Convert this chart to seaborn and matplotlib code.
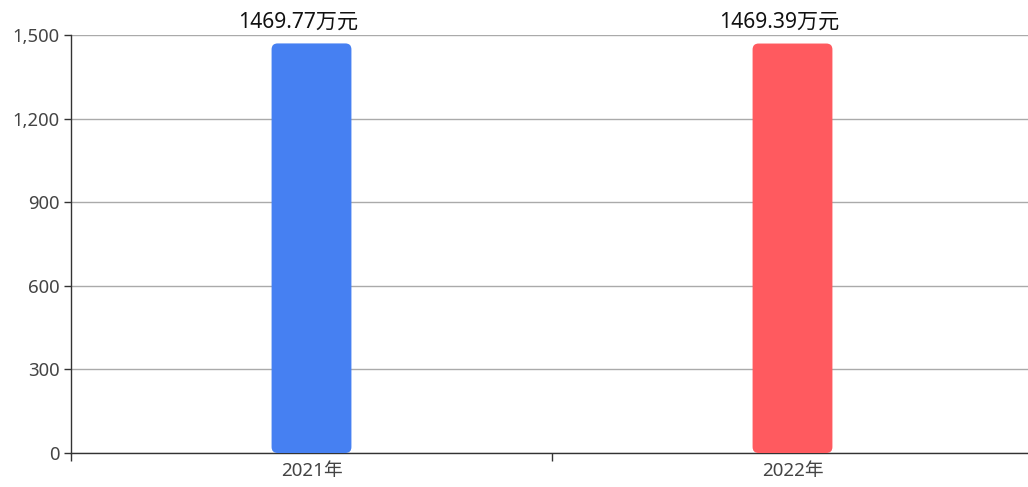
import matplotlib
matplotlib.use("Agg")
import matplotlib.pyplot as plt
import seaborn as sns
import pandas as pd
from matplotlib.patches import FancyBboxPatch
from matplotlib.ticker import FuncFormatter, FixedLocator

categories = ["2021年", "2022年"]
values = [1469.77, 1469.39]
labels = ["1469.77万元", "1469.39万元"]
colors = ["#4680F2", "#FF5A5F"]
y_ticks = [0, 300, 600, 900, 1200, 1500]

sns.set_theme(style="white")
plt.rcParams['font.family'] = ['Noto Sans', 'Noto Sans CJK SC', 'DejaVu Sans']

fig = plt.figure(figsize=(10.28, 4.87), dpi=100)
ax = fig.add_axes([71/1028, 1 - 453/487, 962/1028, 418/487])

df = pd.DataFrame({"cat": categories, "val": values})
sns.barplot(data=df, x="cat", y="val", hue="cat", palette=colors, legend=False,
            width=0.166, ax=ax, saturation=1)

ax.set_xlim(-0.5, 1.5)
ax.set_ylim(0, 1500)
ax.set_yticks(y_ticks)
ax.yaxis.set_major_formatter(FuncFormatter(lambda v, p: f"{int(v):,}"))
ax.set_xlabel("")
ax.set_ylabel("")

# rounded bars
fig.canvas.draw()
inv = ax.transData.inverted()
p0 = inv.transform((0, 0)); p1 = inv.transform((1, 1))
dx_px = p1[0] - p0[0]; dy_px = p1[1] - p0[1]
aspect = dy_px / dx_px
r_px = 6
for patch in list(ax.patches):
    x, y = patch.get_x(), patch.get_y()
    w, h = patch.get_width(), patch.get_height()
    fc = patch.get_facecolor()
    patch.remove()
    fb = FancyBboxPatch((x, y), w, h,
                        boxstyle=f"round,pad=0,rounding_size={r_px*dx_px}",
                        mutation_aspect=aspect, facecolor=fc, edgecolor="none", zorder=3)
    ax.add_patch(fb)

for i, (v, lab) in enumerate(zip(values, labels)):
    ax.annotate(lab, xy=(i, v), xytext=(-9.5, 8), textcoords="offset points",
                ha="center", va="bottom", fontsize=15.2, color="#111111")

ax.yaxis.grid(True, color="#AAAAAA", linewidth=1)
ax.set_axisbelow(True)
for s in ["top", "right"]:
    ax.spines[s].set_visible(False)
for s in ["left", "bottom"]:
    ax.spines[s].set_color("#333333")
    ax.spines[s].set_linewidth(1)

ax.tick_params(axis="y", which="major", length=5, width=1, color="#333333",
               labelcolor="#444444", labelsize=13.3, left=True, pad=3)
ax.tick_params(axis="x", which="major", length=0, labelcolor="#444444", labelsize=13.5, pad=6.5)
ax.xaxis.set_minor_locator(FixedLocator([-0.5, 0.5, 1.5]))
ax.tick_params(axis="x", which="minor", length=6, width=1, color="#333333", bottom=True)

fig.savefig("out.png", dpi=100)
